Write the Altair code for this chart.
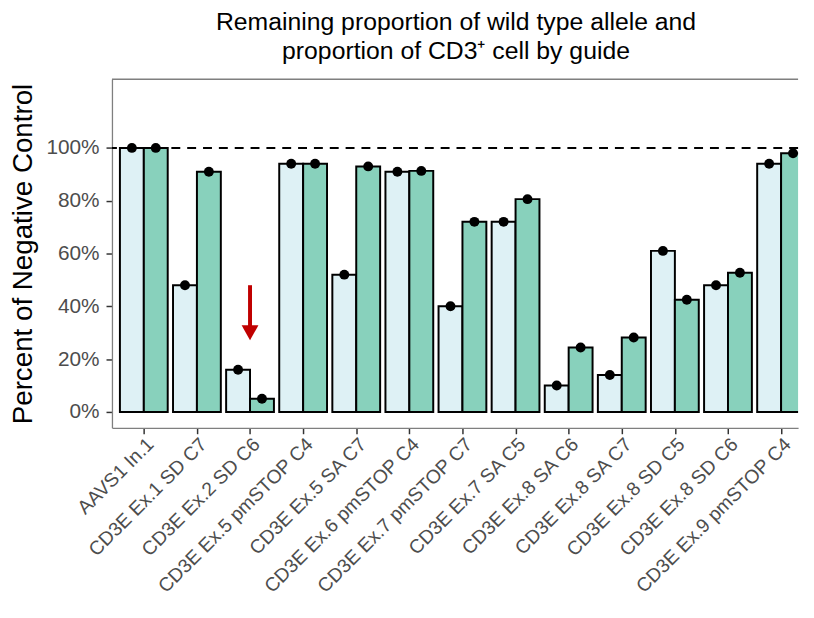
import json
import altair as alt
import pandas as pd

guides = [
    "AAVS1 In.1", "CD3E Ex.1 SD C7", "CD3E Ex.2 SD C6", "CD3E Ex.5 pmSTOP C4",
    "CD3E Ex.5 SA C7", "CD3E Ex.6 pmSTOP C4", "CD3E Ex.7 pmSTOP C7",
    "CD3E Ex.7 SA C5", "CD3E Ex.8 SA C6", "CD3E Ex.8 SA C7", "CD3E Ex.8 SD C5",
    "CD3E Ex.8 SD C6", "CD3E Ex.9 pmSTOP C4",
]
wild_type = [100, 48, 16, 94, 52, 91, 40, 72, 10, 14, 61, 48, 94]
cd3_cells = [100, 91, 5, 94, 93, 91.3, 72, 80.6, 24.4, 28.2, 42.5, 52.7, 98]
series_names = ["Wild type allele", "CD3+ cells"]
series_colors = ["#DEF1F5", "#88D1BC"]

ref_line = [100]
panel_top = [126]
arrow_guide = ["CD3E Ex.2 SD C6"]
arrow_top = [48]
arrow_shaft_end = [31]
arrow_head = [30]

# long table: category order index + series index (0 / 1)
rows = []
for i, (g, w, c) in enumerate(zip(guides, wild_type, cd3_cells)):
    rows.append({"guide": g, "idx": i, "s": 0, "series": series_names[0], "value": w})
    rows.append({"guide": g, "idx": i, "s": 1, "series": series_names[1], "value": c})
df = pd.DataFrame(rows)

arrow_df = pd.DataFrame({"idx": [guides.index(a) for a in arrow_guide], "top": arrow_top,
                         "end": arrow_shaft_end, "head": arrow_head})
ref_df = pd.DataFrame({"y": ref_line})
top_df = pd.DataFrame({"y": panel_top})

FONT = "Liberation Sans"
BORDER = "#7F7F7F"
DODGE = 0.45  # width of each dodged bar in category units

# category axis visible from -0.6 to ~12.32 (the panel is cut off on the right as in the original)
x_scale = alt.Scale(domain=[-0.6, 12.32], nice=False, zero=False)
label_expr = json.dumps(guides) + "[datum.value]"
x_axis = alt.Axis(values=list(range(len(guides))), labelExpr=label_expr,
                  labelAngle=-45, labelAlign="right", labelBaseline="top",
                  labelFontSize=19.5, labelColor="#4D4D4D", labelFont=FONT,
                  labelLimit=0, labelOverlap=False, grid=False,
                  tickColor="#333333", tickSize=6, tickWidth=1.5,
                  domain=True, domainColor=BORDER, domainWidth=1.3,
                  labelPadding=1, title=None)
y_scale = alt.Scale(domain=[-6, 126], nice=False, zero=False)
y_axis = alt.Axis(values=[0, 20, 40, 60, 80, 100], labelExpr="datum.value + '%'",
                  labelFontSize=21, labelColor="#4D4D4D", labelFont=FONT,
                  titleFontSize=28, titleFont=FONT, titleFontWeight="normal",
                  titleColor="#000000", titlePadding=9,
                  tickColor="#333333", tickSize=6, tickWidth=1.5,
                  domain=True, domainColor=BORDER, domainWidth=1.3,
                  grid=False, labelPadding=7)
color = alt.Color("series:N", sort=series_names,
                  scale=alt.Scale(domain=series_names, range=series_colors), legend=None)

base = alt.Chart(df).transform_calculate(
    x0=f"datum.idx - {DODGE} + {DODGE} * datum.s",
    x1=f"datum.idx + {DODGE} * datum.s",
    xc=f"datum.idx - {DODGE / 2} + {DODGE} * datum.s",
)

top_border = alt.Chart(top_df).mark_rule(color=BORDER, strokeWidth=1.3).encode(
    y=alt.Y("y:Q", scale=y_scale)
)

ref = alt.Chart(ref_df).mark_rule(color="black", strokeWidth=2, strokeDash=[9, 7]).encode(
    y=alt.Y("y:Q", scale=y_scale)
)

bars = base.mark_bar(stroke="black", strokeWidth=2, clip=True).encode(
    x=alt.X("x0:Q", scale=x_scale, axis=x_axis),
    x2="x1:Q",
    y=alt.Y("value:Q", stack=None, scale=y_scale, title="Percent of Negative Control", axis=y_axis),
    y2=alt.datum(0),
    color=color,
)

dots = base.mark_point(filled=True, color="black", size=100, opacity=1, clip=True).encode(
    x=alt.X("xc:Q", scale=x_scale), y=alt.Y("value:Q", stack=None, scale=y_scale)
)

shaft = alt.Chart(arrow_df).mark_rule(color="#C00000", strokeWidth=4).encode(
    x=alt.X("idx:Q", scale=x_scale), y=alt.Y("top:Q", scale=y_scale), y2="end:Q"
)
head = alt.Chart(arrow_df).mark_point(filled=True, color="#C00000", opacity=1, size=289,
                                      shape="M-1,-0.9L1,-0.9L0,0.9Z").encode(
    x=alt.X("idx:Q", scale=x_scale), y=alt.Y("head:Q", scale=y_scale)
)

chart = alt.layer(top_border, ref, bars, dots, shaft, head).properties(
    width=693, height=352,
    title=alt.TitleParams(
        ["Remaining proportion of wild type allele and", "proportion of CD3\u207A cell by guide"],
        fontSize=25, font=FONT, fontWeight="normal", color="#000000",
        anchor="middle", offset=15, lineHeight=29, dx=1,
    ),
    autosize=alt.AutoSizeParams(type="none"),
    padding={"left": 105, "top": 69, "right": 8, "bottom": 174},
).configure_view(stroke=None)

chart.save("out.html", embed_options={"renderer": "svg", "actions": False})
